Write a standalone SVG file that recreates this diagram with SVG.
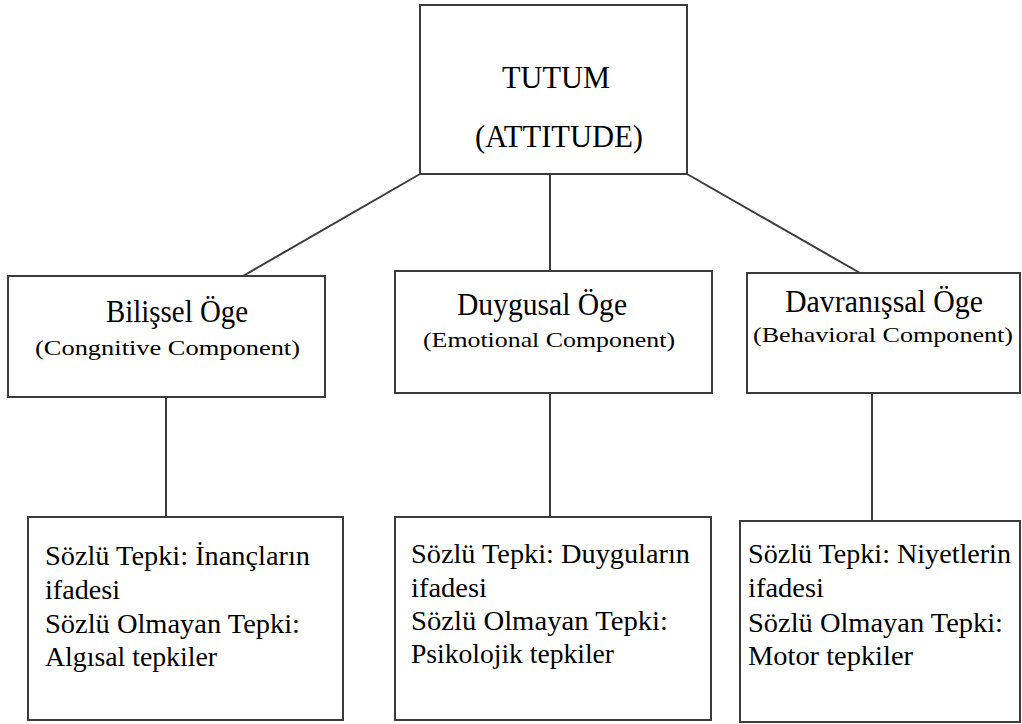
<svg xmlns="http://www.w3.org/2000/svg" width="1022" height="724" viewBox="0 0 1022 724">
<style>
.box{fill:#fff;stroke:#3c3c3c;stroke-width:2}
.ln{stroke:#3c3c3c;stroke-width:2;fill:none}
text{font-family:"Liberation Serif",serif;fill:#000}
.t{font-size:32px}
.s{font-size:22px}
.b{font-size:28px}
</style>
<rect width="1022" height="724" fill="#fff"/>
<g id="connectors">
<line class="ln" x1="420" y1="174" x2="243" y2="276"/>
<line class="ln" x1="550" y1="174" x2="550" y2="271"/>
<line class="ln" x1="687" y1="174" x2="860" y2="273"/>
<line class="ln" x1="166" y1="397" x2="166" y2="517"/>
<line class="ln" x1="550" y1="393" x2="550" y2="517"/>
<line class="ln" x1="872" y1="393" x2="872" y2="521"/>
</g>
<g id="tutum">
<rect class="box" x="420" y="5" width="267" height="169"/>
<text class="t" x="502" y="88" textLength="108" lengthAdjust="spacingAndGlyphs">TUTUM</text>
<text class="t" x="475" y="147" textLength="168" lengthAdjust="spacingAndGlyphs">(ATTITUDE)</text>
</g>
<g id="bilissel">
<rect class="box" x="8" y="276" width="317" height="121"/>
<text class="t" x="106" y="322" textLength="142" lengthAdjust="spacingAndGlyphs">Bilişsel Öge</text>
<text class="s" x="35" y="355" textLength="265" lengthAdjust="spacingAndGlyphs">(Congnitive Component)</text>
</g>
<g id="duygusal">
<rect class="box" x="395" y="271" width="317" height="122"/>
<text class="t" x="457" y="315" textLength="170" lengthAdjust="spacingAndGlyphs">Duygusal Öge</text>
<text class="s" x="423" y="347" textLength="252" lengthAdjust="spacingAndGlyphs">(Emotional Component)</text>
</g>
<g id="davranissal">
<rect class="box" x="747" y="273" width="273" height="120"/>
<text class="t" x="785" y="312" textLength="198" lengthAdjust="spacingAndGlyphs">Davranışsal Öge</text>
<text class="s" x="753" y="342" textLength="260" lengthAdjust="spacingAndGlyphs">(Behavioral Component)</text>
</g>
<g id="bilissel-tepki">
<rect class="box" x="28" y="517" width="315" height="203"/>
<text class="b" x="45" y="565" textLength="265" lengthAdjust="spacingAndGlyphs">Sözlü Tepki: İnançların</text>
<text class="b" x="45" y="599" textLength="75" lengthAdjust="spacingAndGlyphs">ifadesi</text>
<text class="b" x="45" y="633" textLength="255" lengthAdjust="spacingAndGlyphs">Sözlü Olmayan Tepki:</text>
<text class="b" x="45" y="666" textLength="172" lengthAdjust="spacingAndGlyphs">Algısal tepkiler</text>
</g>
<g id="duygusal-tepki">
<rect class="box" x="395" y="517" width="316" height="203"/>
<text class="b" x="411" y="563" textLength="279" lengthAdjust="spacingAndGlyphs">Sözlü Tepki: Duyguların</text>
<text class="b" x="411" y="597" textLength="76" lengthAdjust="spacingAndGlyphs">ifadesi</text>
<text class="b" x="411" y="630" textLength="257" lengthAdjust="spacingAndGlyphs">Sözlü Olmayan Tepki:</text>
<text class="b" x="411" y="663" textLength="203" lengthAdjust="spacingAndGlyphs">Psikolojik tepkiler</text>
</g>
<g id="davranissal-tepki">
<rect class="box" x="740" y="521" width="280" height="201"/>
<text class="b" x="748" y="563" textLength="263" lengthAdjust="spacingAndGlyphs">Sözlü Tepki: Niyetlerin</text>
<text class="b" x="748" y="597" textLength="76" lengthAdjust="spacingAndGlyphs">ifadesi</text>
<text class="b" x="748" y="632" textLength="255" lengthAdjust="spacingAndGlyphs">Sözlü Olmayan Tepki:</text>
<text class="b" x="748" y="665" textLength="165" lengthAdjust="spacingAndGlyphs">Motor tepkiler</text>
</g>
</svg>
